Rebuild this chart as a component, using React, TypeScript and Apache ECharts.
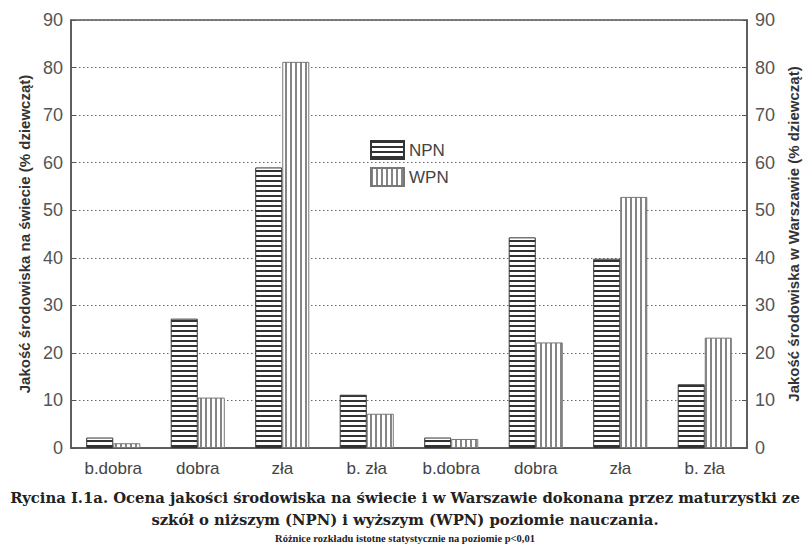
import React, { useEffect, useRef } from "react";
import * as echarts from "echarts";

const categories = ["b.dobra", "dobra", "zła", "b. zła", "b.dobra", "dobra", "zła", "b. zła"];
const npnValues = [2.2, 27.2, 59, 11.2, 2.2, 44.3, 39.8, 13.4];
const wpnValues = [1.0, 10.6, 81.2, 7.2, 1.9, 22.2, 52.8, 23.2];
const seriesNames = ["NPN", "WPN"];
const leftAxisName = "Jakość środowiska na świecie (% dziewcząt)";
const rightAxisName = "Jakość środowiska w Warszawie (% dziewcząt)";
const captionLines = [
  "Rycina I.1a. Ocena jakości środowiska na świecie i w Warszawie dokonana przez maturzystki ze",
  "szkół o niższym (NPN) i wyższym (WPN) poziomie nauczania.",
  "Różnice rozkładu istotne statystycznie na poziomie p<0,01",
];

function makeStripe(horizontal: boolean, line: string) {
  const c = document.createElement("canvas");
  c.width = 5;
  c.height = 5;
  const ctx = c.getContext("2d")!;
  ctx.fillStyle = "#ffffff";
  ctx.fillRect(0, 0, 5, 5);
  ctx.fillStyle = line;
  if (horizontal) ctx.fillRect(0, 0, 5, 2);
  else ctx.fillRect(0, 0, 2, 5);
  return c;
}

export default function App() {
  const ref = useRef<HTMLDivElement>(null);
  useEffect(() => {
    const chart = echarts.init(ref.current!, null, { renderer: "svg" });
    const npnPattern = { image: makeStripe(true, "#333333"), repeat: "repeat", imageWidth: 5, imageHeight: 5 };
    const wpnPattern = { image: makeStripe(false, "#858585"), repeat: "repeat", imageWidth: 5, imageHeight: 5 };
    const axisCommon = {
      type: "value",
      min: 0,
      max: 90,
      interval: 10,
      nameLocation: "middle",
      nameRotate: 90,
      nameTextStyle: { fontFamily: "Liberation Sans", fontWeight: "bold", fontSize: 15, color: "#333" },
      axisLine: { show: true, lineStyle: { color: "#555", width: 1.5 } },
      axisTick: { show: true, inside: true, length: 5, lineStyle: { color: "#555" } },
      axisLabel: { fontFamily: "Liberation Sans", fontSize: 18, color: "#555", margin: 8 },
    };
    chart.setOption({
      animation: false,
      backgroundColor: "#ffffff",
      grid: { left: 71, right: 63, top: 20, bottom: 103, show: true, borderColor: "#555", borderWidth: 1.5 },
      legend: {
        orient: "vertical",
        left: 365,
        top: 135,
        itemWidth: 33,
        itemHeight: 18,
        itemGap: 7,
        icon: "rect",
        textStyle: { fontFamily: "Liberation Sans", fontSize: 17, color: "#444" },
        data: seriesNames,
      },
      xAxis: {
        type: "category",
        data: categories,
        axisLine: { lineStyle: { color: "#555", width: 1.5 } },
        axisTick: { show: false },
        axisLabel: { fontFamily: "Liberation Sans", fontSize: 17, color: "#444", margin: 12, interval: 0 },
      },
      yAxis: [
        {
          ...axisCommon,
          position: "left",
          name: leftAxisName,
          nameGap: 32,
          splitLine: { show: true, lineStyle: { color: "#666", type: [1.5, 2.5], width: 1 } },
        },
        {
          ...axisCommon,
          position: "right",
          name: rightAxisName,
          nameGap: 39,
          splitLine: { show: false },
        },
      ],
      series: [
        {
          name: seriesNames[0],
          type: "bar",
          data: npnValues,
          barGap: "0%",
          barCategoryGap: "36%",
          itemStyle: { color: npnPattern, borderColor: "#333", borderWidth: 1 },
        },
        {
          name: seriesNames[1],
          type: "bar",
          data: wpnValues,
          itemStyle: { color: wpnPattern, borderColor: "#777", borderWidth: 1 },
        },
      ],
      graphic: [
        {
          type: "text",
          left: "center",
          top: 490,
          style: { text: captionLines[0], font: "bold 14.8px 'DejaVu Serif'", fill: "#222" },
        },
        {
          type: "text",
          left: "center",
          top: 512,
          style: { text: captionLines[1], font: "bold 14.8px 'DejaVu Serif'", fill: "#222" },
        },
        {
          type: "text",
          left: "center",
          top: 533,
          style: { text: captionLines[2], font: "bold 10.5px 'Liberation Serif'", fill: "#222" },
        },
      ],
    });
    return () => chart.dispose();
  }, []);
  return (
    <div
      ref={ref}
      style={{ position: "fixed", left: 0, top: 0, width: 810, height: 551, background: "#fff" }}
    />
  );
}
